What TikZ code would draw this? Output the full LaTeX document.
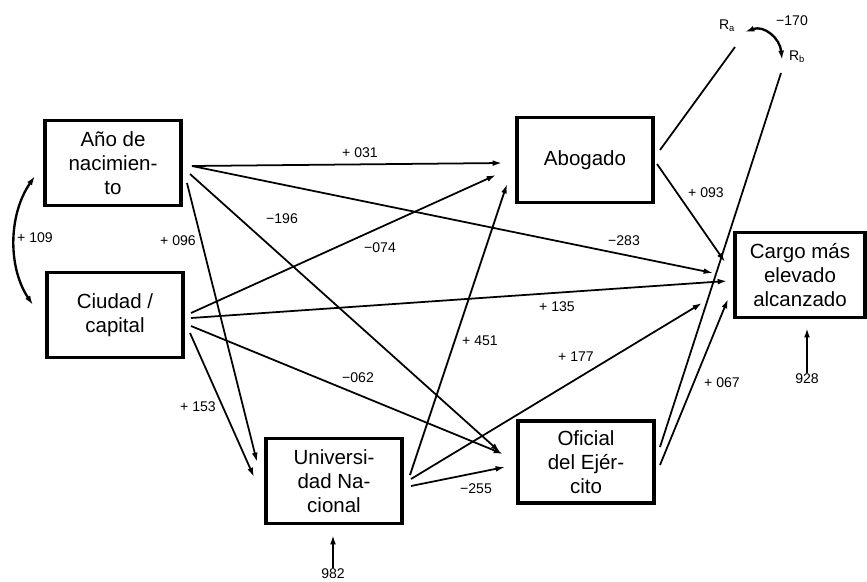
\documentclass[tikz,border=0pt]{standalone}
\usepackage{fontspec}
\setmainfont{Liberation Sans}
\usetikzlibrary{arrows.meta}

\begin{document}
\begin{tikzpicture}[x=0.03cm,y=-0.03cm,
	>={Latex[length=8pt,width=5pt]},
	caja/.style={draw,line width=3pt,minimum width=4.08cm,minimum height=2.55cm,inner sep=0pt,align=center,font=\fontsize{17.5}{20.5}\selectfont},
	coef/.style={font=\fontsize{12}{14}\selectfont,inner sep=1pt},
	flecha/.style={->,line width=1.5pt},
	linea/.style={line width=1.5pt},
	doble/.style={<->,line width=2pt},
	resid/.style={->,line width=2pt}]
	\useasboundingbox (0,0) rectangle (867,581);
	
	\node[caja] (anio) at (113,163) {Año de\\nacimien-\\to};
	\node[caja] (ciudad) at (115,315) {Ciudad /\\capital};
	\node[caja] (univ) at (334,481) {Universi-\\dad Na-\\cional};
	\node[caja] (abog) at (585,160) {Abogado};
	\node[caja,minimum height=2.45cm] (ofic) at (586,462) {Oficial\\del Ejér-\\cito};
	\node[caja,minimum width=3.9cm] (cargo) at (800,275) {Cargo más\\elevado\\alcanzado};
	
	\node[coef] (Ra) at (727,26) {R\textsubscript{a}};
	\node[coef] (Rb) at (797,57) {R\textsubscript{b}};
	\node[coef] (e928) at (807,379) {928};
	\node[coef] (e982) at (333,574) {982};
	
	% salidas y llegadas
	\coordinate (anio-1) at (192,166);
	\coordinate (anio-2) at (190,174);
	\coordinate (anio-3) at (187,183);
	\coordinate (anio-l) at (35,176);
	\coordinate (ciudad-1) at (191,313);
	\coordinate (ciudad-2) at (191,318);
	\coordinate (ciudad-3) at (191,326);
	\coordinate (ciudad-4) at (190,333);
	\coordinate (ciudad-l) at (33,305);
	\coordinate (univ-1) at (410,475);
	\coordinate (univ-2) at (411,479);
	\coordinate (univ-3) at (411,486);
	\coordinate (abog-1) at (657,164);
	\coordinate (abog-2) at (660,150);
	\coordinate (ofic-1) at (660,447);
	\coordinate (ofic-2) at (660,465);
	\coordinate (Ra-1) at (735,47);
	\coordinate (Ra-2) at (745,32);
	\coordinate (Rb-1) at (781,73);
	\coordinate (Rb-2) at (782,60);
	
	\coordinate (abog-a) at (502,163);
	\coordinate (abog-b) at (496,175);
	\coordinate (abog-c) at (507,184);
	\coordinate (univ-a) at (257,462);
	\coordinate (univ-b) at (254,477);
	\coordinate (univ-r) at (333,535);
	\coordinate (ofic-a) at (500,452);
	\coordinate (ofic-b) at (503,454);
	\coordinate (ofic-c) at (505,467);
	\coordinate (cargo-a) at (725,262);
	\coordinate (cargo-b) at (713,273);
	\coordinate (cargo-c) at (727,281);
	\coordinate (cargo-d) at (702,303);
	\coordinate (cargo-e) at (728,299);
	\coordinate (cargo-r) at (807,328);
	
	\draw[flecha] (anio-1) -- (abog-a);
	\draw[flecha] (anio-1) -- (cargo-b);
	\draw[flecha] (anio-2) -- (ofic-a);
	\draw[flecha] (anio-3) -- (univ-a);
	\draw[flecha] (ciudad-1) -- (abog-b);
	\draw[flecha] (ciudad-2) -- (cargo-c);
	\draw[flecha] (ciudad-3) -- (ofic-b);
	\draw[flecha] (ciudad-4) -- (univ-b);
	\draw[flecha] (univ-1) -- (abog-c);
	\draw[flecha] (univ-2) -- (cargo-d);
	\draw[flecha] (univ-3) -- (ofic-c);
	\draw[flecha] (abog-1) -- (cargo-a);
	\draw[flecha] (ofic-2) -- (cargo-e);
	\draw[linea] (Ra-1) -- (abog-2);
	\draw[linea] (Rb-1) -- (ofic-1);
	
	\draw[doble] (anio-l) .. controls (8,215) and (8,268) .. (ciudad-l);
	\draw[doble] (Ra-2) .. controls (764,25) and (780,38) .. (Rb-2);
	\draw[resid] (e928) -- (cargo-r);
	\draw[resid] (e982) -- (univ-r);
	
	\node[coef] (c031) at (360,153) {+ 031};
	\node[coef] (c196) at (282,219) {−196};
	\node[coef] (c096) at (178,241) {+ 096};
	\node[coef] (c074) at (380,248) {−074};
	\node[coef] (c283) at (624,241) {−283};
	\node[coef] (c135) at (557,307) {+ 135};
	\node[coef] (c451) at (480,341) {+ 451};
	\node[coef] (c177) at (576,357) {+ 177};
	\node[coef] (c062) at (358,378) {−062};
	\node[coef] (c153) at (198,407) {+ 153};
	\node[coef] (c255) at (476,489) {−255};
	\node[coef] (c067) at (722,383) {+ 067};
	\node[coef] (c093) at (706,193) {+ 093};
	\node[coef] (c109) at (35,238) {+ 109};
	\node[coef] (c170) at (792,21) {−170};
\end{tikzpicture}
\end{document}
